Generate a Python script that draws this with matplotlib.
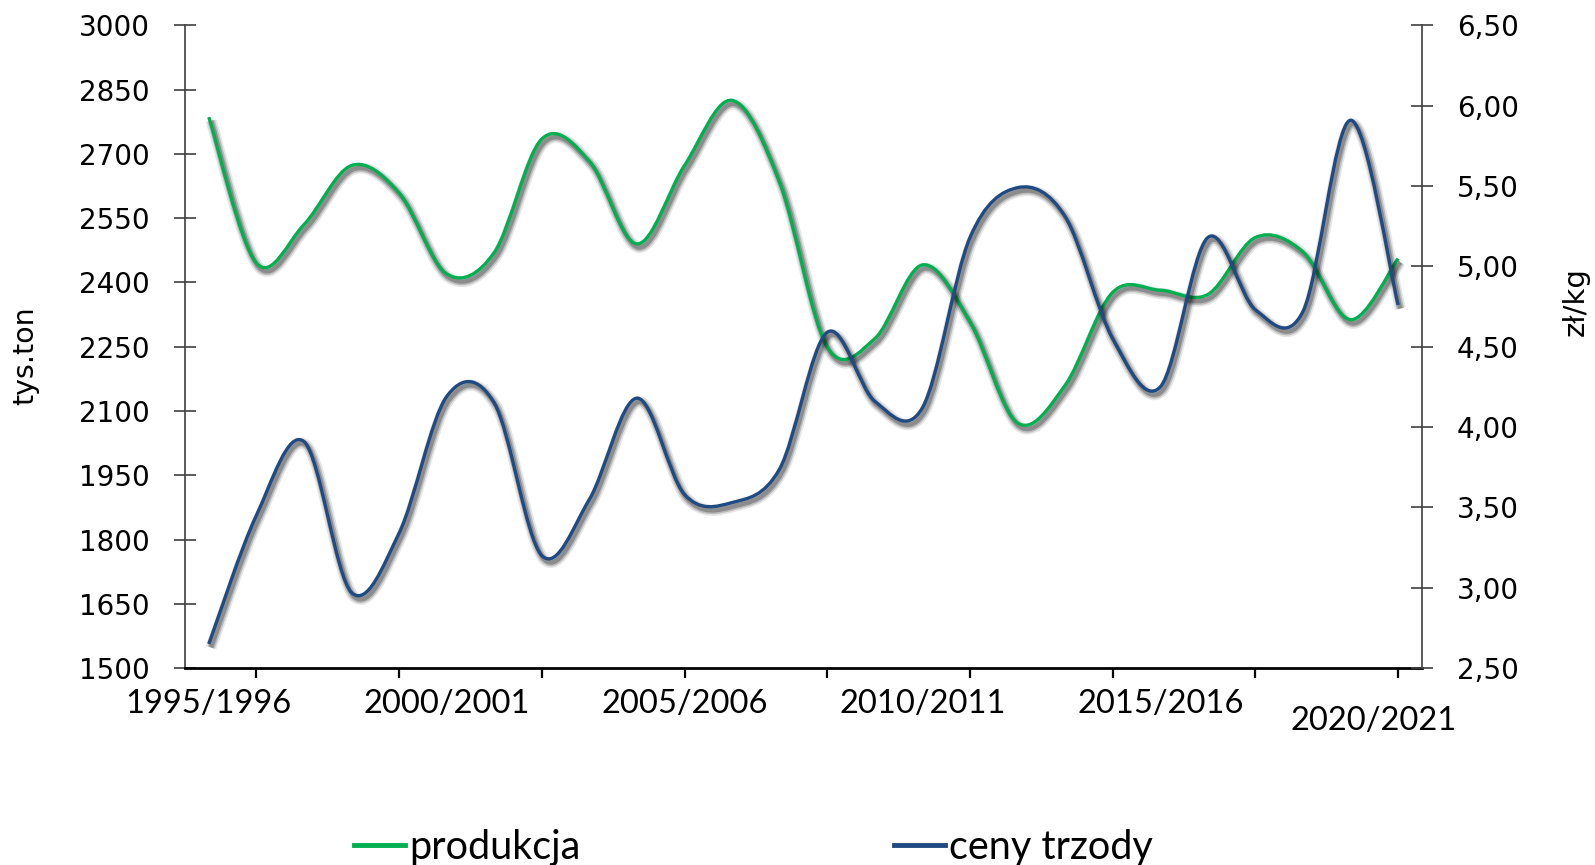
import numpy as np
import matplotlib
matplotlib.use("Agg")
import matplotlib.pyplot as plt
from matplotlib.path import Path
from matplotlib.patches import PathPatch
import matplotlib.patheffects as pe
from matplotlib.lines import Line2D
from matplotlib.transforms import ScaledTranslation
from matplotlib.ticker import FuncFormatter

# ---------------- data ----------------
seasons = ["1995/1996", "1996/1997", "1997/1998", "1998/1999", "1999/2000",
           "2000/2001", "2001/2002", "2002/2003", "2003/2004", "2004/2005",
           "2005/2006", "2006/2007", "2007/2008", "2008/2009", "2009/2010",
           "2010/2011", "2011/2012", "2012/2013", "2013/2014", "2014/2015",
           "2015/2016", "2016/2017", "2017/2018", "2018/2019", "2019/2020",
           "2020/2021"]
produkcja = [2786, 2445, 2535, 2673, 2609, 2420, 2470, 2735, 2683, 2490,
             2673, 2825, 2633, 2249, 2269, 2441, 2308, 2072, 2160, 2377,
             2382, 2372, 2505, 2471, 2313, 2456]
ceny_trzody = [2.65, 3.45, 3.91, 2.97, 3.34, 4.19, 4.15, 3.20, 3.55, 4.18,
               3.58, 3.53, 3.74, 4.59, 4.16, 4.12, 5.18, 5.49, 5.31, 4.55,
               4.25, 5.18, 4.73, 4.72, 5.91, 4.76]
label_every = 5
tick_every = 3

GREEN = "#00B050"
BLUE = "#1F4A82"

# ---------------- figure ----------------
fig = plt.figure(figsize=(15.95, 8.65), dpi=100)
ax = fig.add_axes([0.116, 0.2277, 0.7755, 0.7429])
ax2 = ax.twinx()

n = len(seasons)
xs = np.arange(n)
ax.set_xlim(-0.5, n - 0.5)
ax.set_ylim(1500, 3000)
ax.set_yticks(np.arange(1500, 3001, 150))
ax2.set_ylim(2.5, 6.5)
ax2.set_yticks(np.arange(2.5, 6.51, 0.5))
ax2.yaxis.set_major_formatter(FuncFormatter(lambda v, p: f"{v:.2f}".replace(".", ",")))


def smooth_path(xv, yv):
    pts = np.column_stack([xv, yv]).astype(float)
    m = len(pts)
    verts = [pts[0]]
    codes = [Path.MOVETO]
    for i in range(m - 1):
        p0 = pts[i - 1] if i > 0 else pts[i]
        p1 = pts[i]
        p2 = pts[i + 1]
        p3 = pts[i + 2] if i + 2 < m else pts[i + 1]
        c1 = p1 + (p2 - p0) / 6.0
        c2 = p2 - (p3 - p1) / 6.0
        verts += [c1, c2, p2]
        codes += [Path.CURVE4] * 3
    return Path(verts, codes)


shadow = [
    pe.SimpleLineShadow(offset=(1.6, -2.6), shadow_color="black", alpha=0.10, linewidth=8.0),
    pe.SimpleLineShadow(offset=(1.6, -2.6), shadow_color="black", alpha=0.18, linewidth=5.5),
    pe.SimpleLineShadow(offset=(1.6, -2.6), shadow_color="black", alpha=0.25, linewidth=3.2),
    pe.Normal(),
]

for axis_, vals, col in [(ax, produkcja, GREEN), (ax2, ceny_trzody, BLUE)]:
    patch = PathPatch(smooth_path(xs, vals), fill=False, edgecolor=col,
                      linewidth=2.4, capstyle="butt", joinstyle="round",
                      path_effects=shadow, zorder=3)
    axis_.add_patch(patch)

# ---------------- spines ----------------
for a in (ax, ax2):
    a.spines["top"].set_visible(False)
ax.spines["right"].set_visible(False)
ax2.spines["left"].set_visible(False)
ax2.spines["bottom"].set_visible(False)
ax.spines["left"].set_color("#404040")
ax.spines["left"].set_linewidth(1.2)
ax2.spines["right"].set_color("#404040")
ax2.spines["right"].set_linewidth(1.2)
ax.spines["bottom"].set_color("black")
ax.spines["bottom"].set_linewidth(2.0)

# ---------------- ticks ----------------
ax.tick_params(axis="y", direction="inout", length=16, width=1.2, color="#404040",
               labelsize=20, pad=17.5, labelcolor="black")
ax2.tick_params(axis="y", direction="inout", length=16, width=1.2, color="#404040",
                labelsize=20, pad=17, labelcolor="black")
for lab in ax.get_yticklabels() + ax2.get_yticklabels():
    lab.set_fontfamily("DejaVu Sans")

ax.xaxis.remove_overlapping_locs = False
ax.set_xticks(xs[1::tick_every])
ax.set_xticklabels([])
ax.tick_params(axis="x", which="major", direction="out", length=7, width=1.6, color="black")
lab_pos = xs[::label_every]
ax.set_xticks(lab_pos, minor=True)
ax.set_xticklabels([seasons[i] for i in lab_pos], minor=True)
ax.tick_params(axis="x", which="minor", length=0, pad=15, labelsize=23.5)
minor_labels = ax.get_xticklabels(minor=True)
for lab in minor_labels:
    lab.set_fontfamily(["Lato", "DejaVu Sans"])
last = minor_labels[-1]
last.set_transform(last.get_transform() + ScaledTranslation(-0.25, -0.17, fig.dpi_scale_trans))

# ---------------- axis labels ----------------
ax.set_ylabel("tys.ton", fontsize=20.5, family="DejaVu Sans")
ax.yaxis.set_label_coords(-0.118, 0.486)
ax2.set_ylabel("zł/kg", fontsize=21, family="DejaVu Sans")
ax2.yaxis.set_label_coords(1.113, 0.57)

# ---------------- legend ----------------
handles = [Line2D([], [], color=GREEN, linewidth=3.5),
           Line2D([], [], color=BLUE, linewidth=3.5)]
fig.legend(handles, ["produkcja", "ceny trzody"], loc="center left",
           bbox_to_anchor=(354 / 1595, 0.02), ncol=2, frameon=False,
           prop={"family": ["Lato", "DejaVu Sans"], "size": 28.5},
           handlelength=1.3, handletextpad=0.1, columnspacing=7.9,
           borderpad=0, borderaxespad=0)

fig.savefig("out.png", dpi=100)
